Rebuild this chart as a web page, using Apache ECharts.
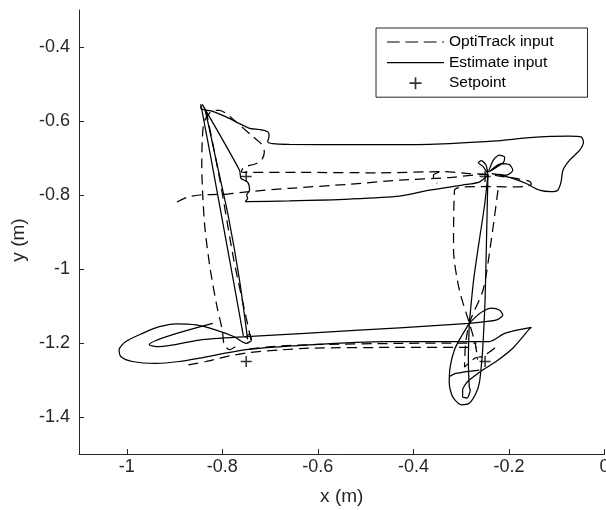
<!DOCTYPE html>
<html><head><meta charset="utf-8">
<script src="https://cdn.jsdelivr.net/npm/echarts@6/dist/echarts.min.js"></script>
<style>html,body{margin:0;padding:0;background:#fff}#c{width:606px;height:510px}</style>
</head><body><div id="c"></div>
<script>
// ---- axis ticks ----
const xTicks = [-1, -0.8, -0.6, -0.4, -0.2, 0];
const yTicks = [-1.4, -1.2, -1, -0.8, -0.6, -0.4];

// ---- setpoints ----
const setpointX = [-0.75, -0.25, -0.25, -0.75];
const setpointY = [-0.75, -0.75, -1.25, -1.25];

// ---- Estimate input (solid) strokes, [x, y] in metres ----
const estBottomUpper = [[-0.820,-1.147],[-0.953,-1.205],[-0.932,-1.210],[-0.848,-1.192],[-0.750,-1.183],[-0.618,-1.173],[-0.429,-1.159],[-0.283,-1.147],[-0.241,-1.141],[-0.223,-1.136],[-0.213,-1.124],[-0.220,-1.111],[-0.237,-1.106],[-0.255,-1.115],[-0.270,-1.130],[-0.283,-1.147],[-0.274,-1.030],[-0.262,-0.922],[-0.251,-0.827],[-0.244,-0.746]];
const estTopLoop = [[-0.244,-0.742],[-0.255,-0.722],[-0.264,-0.713],[-0.258,-0.707],[-0.248,-0.719],[-0.244,-0.738],[-0.236,-0.714],[-0.230,-0.701],[-0.220,-0.692],[-0.209,-0.698],[-0.211,-0.711],[-0.226,-0.725],[-0.241,-0.737],[-0.216,-0.715],[-0.199,-0.718],[-0.192,-0.733],[-0.205,-0.746],[-0.236,-0.742],[-0.220,-0.746],[-0.192,-0.755],[-0.164,-0.769],[-0.136,-0.787],[-0.112,-0.791],[-0.098,-0.787],[-0.091,-0.765],[-0.087,-0.733],[-0.073,-0.706],[-0.052,-0.679],[-0.044,-0.656],[-0.049,-0.643],[-0.073,-0.641],[-0.157,-0.645],[-0.227,-0.654],[-0.366,-0.663],[-0.534,-0.664],[-0.660,-0.663],[-0.695,-0.661],[-0.705,-0.656],[-0.702,-0.640],[-0.705,-0.629],[-0.723,-0.623],[-0.743,-0.620],[-0.764,-0.607],[-0.792,-0.589],[-0.820,-0.574],[-0.845,-0.566],[-0.845,-0.555],[-0.823,-0.706],[-0.802,-0.854],[-0.777,-1.030],[-0.756,-1.181]];
const estLeftRight = [[-0.747,-1.190],[-0.764,-1.030],[-0.788,-0.854],[-0.813,-0.706],[-0.836,-0.571],[-0.842,-0.555],[-0.764,-0.733],[-0.761,-0.755],[-0.747,-0.765],[-0.743,-0.787],[-0.749,-0.800],[-0.747,-0.809],[-0.752,-0.818],[-0.660,-0.816],[-0.534,-0.811],[-0.429,-0.803],[-0.366,-0.787],[-0.297,-0.773],[-0.262,-0.765],[-0.244,-0.746],[-0.247,-0.922],[-0.250,-1.084],[-0.255,-1.218],[-0.258,-1.264],[-0.262,-1.308],[-0.269,-1.336],[-0.283,-1.363],[-0.300,-1.367],[-0.318,-1.345],[-0.325,-1.308],[-0.323,-1.264],[-0.314,-1.218],[-0.300,-1.183],[-0.283,-1.147],[-0.285,-1.245],[-0.283,-1.320],[-0.281,-1.327],[-0.288,-1.349],[-0.297,-1.345],[-0.297,-1.327],[-0.289,-1.308],[-0.283,-1.300],[-0.255,-1.273],[-0.227,-1.250],[-0.192,-1.214],[-0.157,-1.162],[-0.153,-1.158],[-0.209,-1.174],[-0.241,-1.196],[-0.366,-1.196],[-0.458,-1.196],[-0.619,-1.205],[-0.750,-1.218],[-0.848,-1.241],[-0.890,-1.250],[-0.939,-1.255],[-0.988,-1.250],[-1.012,-1.237],[-1.016,-1.218],[-1.002,-1.196],[-0.967,-1.174],[-0.932,-1.156],[-0.897,-1.148],[-0.855,-1.151],[-0.813,-1.165],[-0.775,-1.183],[-0.750,-1.201],[-0.739,-1.192],[-0.743,-1.176],[-0.752,-1.185]];
const estEllipseChord = [[-0.325,-1.291],[-0.311,-1.282],[-0.262,-1.273]];

// ---- OptiTrack input (dashed) strokes ----
const optLeft = [[-0.773,-1.210],[-0.785,-1.218],[-0.796,-1.205],[-0.800,-1.165],[-0.811,-1.103],[-0.825,-1.003],[-0.836,-0.895],[-0.841,-0.800],[-0.843,-0.719],[-0.842,-0.652],[-0.838,-0.602],[-0.824,-0.575],[-0.806,-0.571],[-0.775,-0.598],[-0.740,-0.638],[-0.719,-0.661],[-0.712,-0.684],[-0.718,-0.706],[-0.733,-0.717],[-0.756,-0.725],[-0.760,-0.738],[-0.743,-0.739],[-0.639,-0.739],[-0.471,-0.740],[-0.335,-0.737],[-0.283,-0.742],[-0.245,-0.744]];
const optTopLower = [[-0.895,-0.819],[-0.873,-0.806],[-0.848,-0.800],[-0.796,-0.798],[-0.754,-0.792],[-0.660,-0.782],[-0.534,-0.771],[-0.429,-0.760],[-0.325,-0.753],[-0.272,-0.746],[-0.245,-0.744],[-0.220,-0.749],[-0.178,-0.757],[-0.157,-0.763],[-0.153,-0.771],[-0.165,-0.777],[-0.209,-0.778],[-0.245,-0.777],[-0.293,-0.778],[-0.314,-0.787],[-0.316,-0.949],[-0.304,-1.056],[-0.283,-1.146],[-0.270,-1.205],[-0.266,-1.245]];
const optHook = [[-0.346,-0.738],[-0.358,-0.746],[-0.358,-0.760],[-0.350,-0.768]];
const optRight = [[-0.223,-0.787],[-0.237,-0.922],[-0.254,-1.056],[-0.283,-1.146],[-0.291,-1.205],[-0.293,-1.265],[-0.270,-1.240],[-0.255,-1.236],[-0.231,-1.215],[-0.224,-1.200]];
const optLeftInner = [[-0.834,-0.571],[-0.805,-0.760],[-0.776,-0.975],[-0.743,-1.173],[-0.739,-1.197]];
const optBottomA = [[-0.871,-1.259],[-0.834,-1.250],[-0.796,-1.238],[-0.750,-1.227],[-0.681,-1.219],[-0.620,-1.214],[-0.429,-1.212],[-0.304,-1.212],[-0.268,-1.212]];
const optBottomB = [[-0.743,-1.216],[-0.681,-1.208],[-0.599,-1.204],[-0.429,-1.201],[-0.325,-1.200],[-0.268,-1.200]];

const estStrokes = [estBottomUpper, estTopLoop, estLeftRight, estEllipseChord];
const optStrokes = [optLeft, optTopLower, optHook, optRight, optLeftInner, optBottomA, optBottomB];

const FONT = "'Liberation Sans', Arial, Helvetica, sans-serif";
const INK = '#262626';
const PLUS = 'path://M4.3,0 L5.7,0 L5.7,4.3 L10,4.3 L10,5.7 L5.7,5.7 L5.7,10 L4.3,10 L4.3,5.7 L0,5.7 L0,4.3 L4.3,4.3 Z';
const ICON_DASH = 'path://M0,0 L12.7,0 L12.7,1.2 L0,1.2 Z M18.4,0 L31.1,0 L31.1,1.2 L18.4,1.2 Z M36.8,0 L49.5,0 L49.5,1.2 L36.8,1.2 Z M55.2,0 L57,0 L57,1.2 L55.2,1.2 Z';
const ICON_SOLID = 'path://M0,0 L55,0 L55,1.2 L0,1.2 Z';

const series = [];
optStrokes.forEach(s => series.push({
  name: 'OptiTrack input', type: 'line', data: s, symbol: 'none', showSymbol: false, smooth: 0.25,
  lineStyle: { color: '#000', width: 1.25, type: [10, 6] }, itemStyle: { color: '#000' }, z: 2
}));
estStrokes.forEach(s => series.push({
  name: 'Estimate input', type: 'line', data: s, symbol: 'none', showSymbol: false, smooth: 0.25,
  lineStyle: { color: '#000', width: 1.25, type: 'solid' }, itemStyle: { color: '#000' }, z: 3
}));
series.push({
  name: 'Setpoint', type: 'scatter', symbol: PLUS, symbolSize: 11,
  data: setpointX.map((x, i) => [x, setpointY[i]]),
  itemStyle: { color: '#000' }, z: 4
});

const chart = echarts.init(document.getElementById('c'), null, { renderer: 'canvas' });
chart.setOption({
  animation: false,
  backgroundColor: '#fff',
  textStyle: { fontFamily: FONT },
  grid: { left: 79, top: 10, width: 525.5, height: 444, containLabel: false, outerBoundsMode: 'none' },
  legend: {
    orient: 'vertical', left: 376, top: 28,
    data: [
      { name: 'OptiTrack input', icon: ICON_DASH },
      { name: 'Estimate input', icon: ICON_SOLID },
      { name: 'Setpoint', icon: PLUS }
    ],
    itemWidth: 57, itemHeight: 12, itemGap: 4.6,
    padding: [6, 34, 6, 11],
    borderColor: INK, borderWidth: 1, backgroundColor: '#fff',
    itemStyle: { color: '#000' },
    textStyle: { fontFamily: FONT, fontSize: 15.5, color: '#000', lineHeight: 16 },
    selectedMode: false
  },
  xAxis: {
    type: 'value', min: -1.1, max: 0,
    name: 'x (m)', nameLocation: 'middle', nameGap: 33,
    nameTextStyle: { fontFamily: FONT, fontSize: 19, color: INK },
    axisLine: { show: true, onZero: false, lineStyle: { color: INK, width: 1 } },
    axisTick: { show: true, inside: true, length: 5, customValues: xTicks, lineStyle: { color: INK } },
    axisLabel: { customValues: xTicks, margin: 4, fontFamily: FONT, fontSize: 18, color: INK, formatter: v => String(v) },
    splitLine: { show: false }
  },
  yAxis: {
    type: 'value', min: -1.5, max: -0.3,
    name: 'y (m)', nameLocation: 'middle', nameGap: 45, nameRotate: 90,
    nameTextStyle: { fontFamily: FONT, fontSize: 19, color: INK, padding: [0, 16, 0, 0] },
    axisLine: { show: true, onZero: false, lineStyle: { color: INK, width: 1 } },
    axisTick: { show: true, inside: true, length: 5, customValues: yTicks, lineStyle: { color: INK } },
    axisLabel: { customValues: yTicks, margin: 9, fontFamily: FONT, fontSize: 18, color: INK, formatter: v => String(v) },
    splitLine: { show: false }
  },
  series: series
});
</script></body></html>
